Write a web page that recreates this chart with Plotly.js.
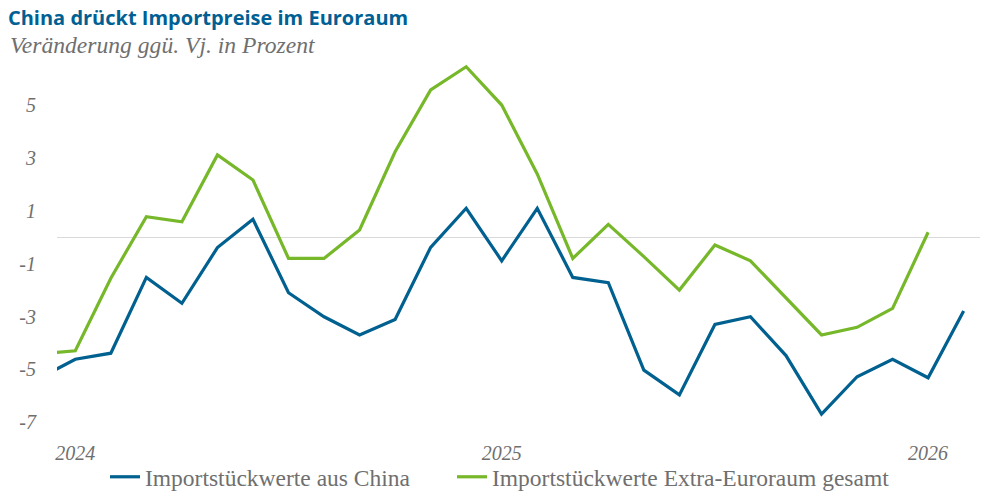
<!DOCTYPE html>
<html>
<head>
<meta charset="utf-8">
<script src="https://cdn.plot.ly/plotly-3.0.1.min.js"></script>
<style>html,body{margin:0;padding:0;background:#fff;}#chart{width:998px;height:504px;}</style>
</head>
<body>
<div id="chart"></div>
<script>
// Months (Dec 2023 is only partly visible at the left edge)
const months = ["2023-12","2024-01","2024-02","2024-03","2024-04","2024-05","2024-06","2024-07","2024-08","2024-09","2024-10","2024-11","2024-12",
  "2025-01","2025-02","2025-03","2025-04","2025-05","2025-06","2025-07","2025-08","2025-09","2025-10","2025-11","2025-12",
  "2026-01","2026-02"];
const china = [-5.33,-4.62,-4.39,-1.52,-2.50,-0.39,0.68,-2.10,-3.01,-3.70,-3.11,-0.38,1.10,
  -0.89,1.10,-1.52,-1.72,-5.03,-5.97,-3.30,-3.01,-4.48,-6.70,-5.28,-4.62,
  -5.32,-2.79];
const extraEA = [-4.41,-4.30,-1.55,0.78,0.59,3.12,2.17,-0.80,-0.80,0.28,3.24,5.58,6.46,
  5.01,2.40,-0.80,0.49,-0.73,-2.00,-0.29,-0.89,-2.30,-3.70,-3.41,-2.69,
  0.19,null];
const seriesNames = ["Importstückwerte aus China","Importstückwerte Extra-Euroraum gesamt"];
const yearLabels = ["2024","2025","2026"];
const yTicks = [5,3,1,-1,-3,-5,-7];

const monthIndex = m => { const [y, mo] = m.split("-").map(Number); return (y - 2024) * 12 + (mo - 1); };
const xs = months.map(monthIndex);
const yearVals = yearLabels.map(y => monthIndex(y + "-01"));

const BLUE = "#00608f", GREEN = "#76b82a", GRAY = "#6f6f6f";
const serif = "Liberation Serif, Times New Roman, serif";

const traces = [
  {x: xs, y: china, name: seriesNames[0], type: "scatter", mode: "lines", legend: "legend",
   line: {color: BLUE, width: 3.2}, connectgaps: false, hoverinfo: "skip"},
  {x: xs, y: extraEA, name: seriesNames[1], type: "scatter", mode: "lines", legend: "legend2",
   line: {color: GREEN, width: 3.2}, connectgaps: false, hoverinfo: "skip"}
];

const px2x = p => (p - 57) / 923;
const legendBase = {orientation: "h", xanchor: "left", y: -(477 - 432) / 372, yanchor: "middle",
  bgcolor: "rgba(0,0,0,0)", font: {family: serif, size: 23.5, color: GRAY}, itemwidth: 30};

const layout = {
  width: 998, height: 504,
  margin: {l: 57, r: 18, t: 60, b: 72, autoexpand: false},
  paper_bgcolor: "#fff", plot_bgcolor: "#fff",
  title: {text: "<b>China drückt Importpreise im Euroraum</b>", x: 0.008, xanchor: "left",
          xref: "container", yref: "container", y: 1 - 18/504, yanchor: "middle",
          font: {family: "Open Sans, Lato, sans-serif", size: 20, color: "#005f93"}},
  annotations: [{text: "<i>Veränderung ggü. Vj. in Prozent</i>", xref: "paper", yref: "paper",
    x: (8 - 57) / 923, xanchor: "left", y: 1 + (60 - 45) / 372, yanchor: "middle", showarrow: false,
    font: {family: serif, size: 23.6, color: GRAY}}],
  xaxis: {range: [-0.515, 25.46], tickvals: yearVals, ticktext: yearLabels.map(t => "<i>" + t + "</i>"),
          showgrid: false, zeroline: false, showline: false, ticks: "", ticklabelstandoff: 7,
          tickfont: {family: serif, size: 20, color: GRAY}, fixedrange: true},
  yaxis: {range: [-7.375, 6.716], tickvals: yTicks, ticktext: yTicks.map(v => "<i>" + String(v) + "</i>"),
          showgrid: false, zeroline: true, zerolinecolor: "#d9d9d9", zerolinewidth: 1.5,
          showline: false, ticks: "", ticklabelstandoff: 20,
          tickfont: {family: serif, size: 20, color: GRAY}, fixedrange: true},
  showlegend: true,
  legend: Object.assign({}, legendBase, {x: px2x(105)}),
  legend2: Object.assign({}, legendBase, {x: px2x(452)}),
  hovermode: false
};

Plotly.newPlot("chart", traces, layout, {displayModeBar: false, staticPlot: true});
</script>
</body>
</html>
